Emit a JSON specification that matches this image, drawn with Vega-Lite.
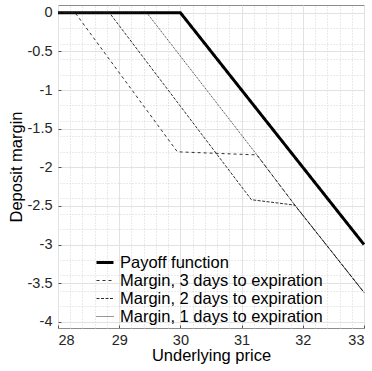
{
  "$schema": "https://vega.github.io/schema/vega-lite/v6.json",
  "width": 306,
  "height": 323,
  "autosize": {"type": "none"},
  "padding": {"left": 58, "top": 5, "right": 8, "bottom": 43},
  "config": {
    "font": "Liberation Sans",
    "view": {"stroke": "#8c8c8c", "strokeWidth": 1}
  },
  "data": {
    "values": [
      {"series": "Payoff function", "o": 1, "x": 28, "y": 0},
      {"series": "Payoff function", "o": 2, "x": 30, "y": 0},
      {"series": "Payoff function", "o": 3, "x": 33, "y": -3},
      {"series": "Margin, 3 days to expiration", "o": 1, "x": 28, "y": 0},
      {"series": "Margin, 3 days to expiration", "o": 2, "x": 28.28, "y": 0},
      {"series": "Margin, 3 days to expiration", "o": 3, "x": 29.95, "y": -1.8},
      {"series": "Margin, 3 days to expiration", "o": 4, "x": 31.25, "y": -1.84},
      {"series": "Margin, 3 days to expiration", "o": 5, "x": 31.87, "y": -2.49},
      {"series": "Margin, 3 days to expiration", "o": 6, "x": 33, "y": -3.62},
      {"series": "Margin, 2 days to expiration", "o": 1, "x": 28, "y": 0},
      {"series": "Margin, 2 days to expiration", "o": 2, "x": 28.84, "y": 0},
      {"series": "Margin, 2 days to expiration", "o": 3, "x": 31.16, "y": -2.42},
      {"series": "Margin, 2 days to expiration", "o": 4, "x": 31.87, "y": -2.49},
      {"series": "Margin, 2 days to expiration", "o": 5, "x": 33, "y": -3.62},
      {"series": "Margin, 1 days to expiration", "o": 1, "x": 28, "y": 0},
      {"series": "Margin, 1 days to expiration", "o": 2, "x": 29.45, "y": 0},
      {"series": "Margin, 1 days to expiration", "o": 3, "x": 31.25, "y": -1.84},
      {"series": "Margin, 1 days to expiration", "o": 4, "x": 31.87, "y": -2.49},
      {"series": "Margin, 1 days to expiration", "o": 5, "x": 33, "y": -3.62}
    ]
  },
  "layer": [
    {
      "mark": {"type": "line", "opacity": 0},
      "encoding": {
        "x": {
          "field": "x", "type": "quantitative",
          "scale": {"domain": [28, 33], "nice": false, "zero": false},
          "axis": {
            "orient": "top", "title": null, "labels": false, "ticks": false, "domain": false,
            "grid": true, "gridColor": "#d4d4d4", "gridDash": [1, 2],
            "values": [28.2, 28.4, 28.6, 28.8, 29.2, 29.4, 29.6, 29.8, 30.2, 30.4, 30.6, 30.8, 31.2, 31.4, 31.6, 31.8, 32.2, 32.4, 32.6, 32.8]
          }
        },
        "y": {
          "field": "y", "type": "quantitative",
          "scale": {"domain": [-4.08, 0.1], "nice": false, "zero": false},
          "axis": {
            "orient": "right", "title": null, "labels": false, "ticks": false, "domain": false,
            "grid": true, "gridColor": "#d4d4d4", "gridDash": [1, 2],
            "values": [-0.2, -0.4, -0.6, -0.8, -1.2, -1.4, -1.6, -1.8, -2.2, -2.4, -2.6, -2.8, -3.2, -3.4, -3.6, -3.8]
          }
        },
        "detail": {"field": "series"}
      }
    },
    {
      "mark": {"type": "line"},
      "encoding": {
        "x": {
          "field": "x", "type": "quantitative",
          "scale": {"domain": [28, 33], "nice": false, "zero": false},
          "axis": {
            "orient": "bottom", "title": "Underlying price", "values": [28, 29, 30, 31, 32, 33],
            "grid": true, "gridColor": "#e2e2e2", "domain": false,
            "ticks": true, "tickSize": -3, "tickColor": "#555",
            "labelPadding": 8, "labelFontSize": 14.5, "labelColor": "#262626",
            "titleFontSize": 16.5, "titleFontWeight": "normal", "titleColor": "#000", "titlePadding": 1
          }
        },
        "y": {
          "field": "y", "type": "quantitative",
          "scale": {"domain": [-4.08, 0.1], "nice": false, "zero": false},
          "axis": {
            "orient": "left", "title": "Deposit margin", "values": [-4, -3.5, -3, -2.5, -2, -1.5, -1, -0.5, 0],
            "labelExpr": "datum.value == 0 ? '0' : '-' + format(abs(datum.value), '~g')",
            "grid": true, "gridColor": "#e2e2e2", "domain": false,
            "ticks": true, "tickSize": -3, "tickColor": "#555",
            "labelPadding": 9, "labelFontSize": 14.5, "labelColor": "#262626",
            "titleFontSize": 16.5, "titleFontWeight": "normal", "titleColor": "#000", "titlePadding": 3
          }
        },
        "color": {
          "field": "series", "type": "nominal",
          "scale": {
            "domain": ["Payoff function", "Margin, 3 days to expiration", "Margin, 2 days to expiration", "Margin, 1 days to expiration"],
            "range": ["#000000", "#1a1a1a", "#1a1a1a", "#1a1a1a"]
          },
          "legend": {
            "orient": "none", "legendX": 37, "legendY": 247.5, "title": null,
            "labelFontSize": 16.5, "labelColor": "#000", "labelLimit": 320, "labelOffset": 5,
            "symbolType": "stroke", "symbolSize": 289, "padding": 0, "rowPadding": -1.3
          }
        },
        "strokeDash": {
          "field": "series", "type": "nominal",
          "scale": {
            "domain": ["Payoff function", "Margin, 3 days to expiration", "Margin, 2 days to expiration", "Margin, 1 days to expiration"],
            "range": [[1, 0], [3, 3], [3, 1.5], [1, 1]]
          }
        },
        "strokeWidth": {
          "field": "series", "type": "nominal",
          "scale": {
            "type": "ordinal",
            "domain": ["Payoff function", "Margin, 3 days to expiration", "Margin, 2 days to expiration", "Margin, 1 days to expiration"],
            "range": [3, 0.9, 0.9, 0.9]
          }
        },
        "order": {"field": "o", "type": "quantitative"}
      }
    }
  ],
  "resolve": {"axis": {"x": "independent", "y": "independent"}}
}
